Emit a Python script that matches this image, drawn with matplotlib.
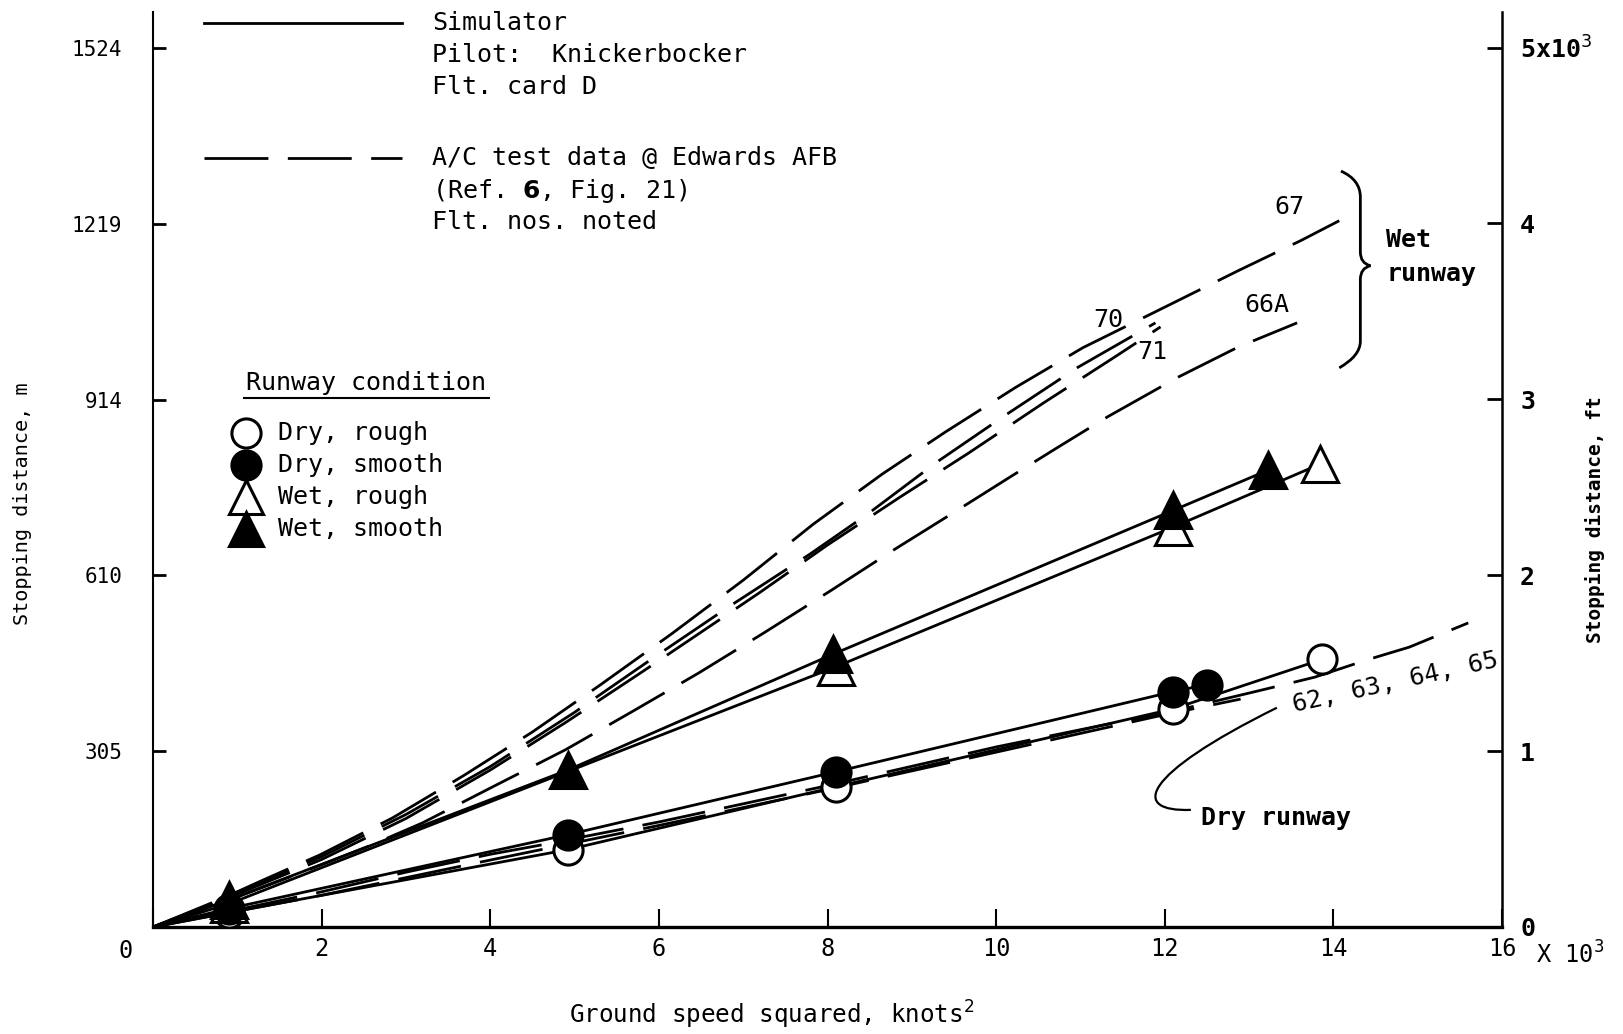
import matplotlib
matplotlib.use("Agg")
import matplotlib.pyplot as plt
from matplotlib.path import Path
from matplotlib.patches import PathPatch

# ground speed squared in 10^3 knots^2, stopping distance in m
# simulator runs (Pilot: Knickerbocker, Flt. card D)
dry_rough_x = [0.9, 4.92, 8.1, 12.1, 13.87]
dry_rough_y = [25, 134, 243, 378, 464]
dry_smooth_x = [0.9, 4.92, 8.1, 12.1, 12.5]
dry_smooth_y = [32, 160, 269, 408, 420]
wet_rough_x = [0.9, 8.1, 12.1, 13.84]
wet_rough_y = [40, 451, 693, 802]
wet_smooth_x = [0.9, 4.92, 8.07, 12.1, 13.23]
wet_smooth_y = [47, 272, 473, 722, 792]

# A/C test data @ Edwards AFB, flight numbers
flt67_x = [0, 0.5, 1.3, 1.98, 2.84, 3.68, 4.5, 5.3, 6.16, 7.0, 7.83, 8.65, 9.4, 10.23, 11.03, 12.08, 12.88, 13.62, 14.07]
flt67_y = [0, 28, 81, 125, 189, 262, 338, 419, 509, 601, 698, 785, 858, 935, 1004, 1080, 1138, 1190, 1224]
flt70_x = [0, 1, 2, 3, 4, 5, 5.95, 6.84, 7.79, 8.47, 9.3, 10.11, 10.97, 11.89]
flt70_y = [0, 60, 122, 195, 278, 372, 468, 556, 646, 715, 806, 887, 970, 1047]
flt71_x = [0, 1, 2, 3, 4, 4.9, 5.8, 6.4, 7.2, 8.0, 8.86, 9.67, 10.56, 11.43, 11.95]
flt71_y = [0, 57, 117, 188, 272, 355, 442, 501, 580, 662, 745, 821, 908, 990, 1040]
flt66a_x = [0, 1, 2, 2.54, 3.19, 4.03, 4.89, 5.68, 6.47, 7.26, 8.05, 8.78, 9.45, 10.2, 10.74, 11.32, 12.16, 12.87, 13.57]
flt66a_y = [0, 52, 108, 139, 180, 243, 307, 373, 440, 511, 584, 653, 714, 783, 832, 884, 953, 1005, 1047]
dry_test_x = [0, 1, 2, 3, 4, 4.6, 6, 8, 10, 11.27, 11.9, 13.16, 13.78, 14.4, 14.9, 15.6]
dry_test_y = [0, 30, 61, 95, 126, 142, 182, 245, 312, 350, 367, 411, 433, 463, 485, 527]
dry_test2_x = [0, 2, 4, 6, 8, 10, 12, 12.9]
dry_test2_y = [0, 55, 116, 176, 238, 303, 368, 395]

m_ticks = [305, 610, 914, 1219, 1524]
ft_ticks = [0, 1000, 2000, 3000, 4000, 5000]
ft_labels = ["0", "1", "2", "3", "4", "5x10$^3$"]
x_ticks = [0, 2, 4, 6, 8, 10, 12, 14, 16]
x_labels = ["", "2", "4", "6", "8", "10", "12", "14", "16"]

MONO = "DejaVu Sans Mono"
FS = 18

fig = plt.figure(figsize=(16.24, 10.34), dpi=100)
ax = fig.add_axes([153 / 1624, 1 - 927 / 1034, 1349 / 1624, 914.6 / 1034])
ax.set_xlim(0, 16)
ax.set_ylim(0, 1585)

for s in ["top", "right"]:
    ax.spines[s].set_visible(False)
ax.spines["bottom"].set_linewidth(2.4)
ax.spines["left"].set_linewidth(1.5)

ax.set_xticks(x_ticks)
ax.set_xticklabels(x_labels, fontfamily=MONO, fontsize=17)
ax.set_yticks(m_ticks)
ax.set_yticklabels([str(v) for v in m_ticks], fontfamily=MONO, fontsize=15)
ax.tick_params(axis="x", direction="in", length=13, width=1.5, pad=7)
ax.tick_params(axis="y", direction="in", length=9, width=2, pad=22)

ax2 = ax.twinx()
ax2.set_ylim(0, 1585 / 0.3048)
for s in ["top", "left", "bottom"]:
    ax2.spines[s].set_visible(False)
ax2.spines["right"].set_linewidth(1.8)
ax2.set_yticks(ft_ticks)
ax2.set_yticklabels(ft_labels, fontfamily=MONO, fontsize=18, fontweight="bold")
ax2.tick_params(axis="y", direction="in", length=11, width=2, pad=13)

# A/C test data, dashed
dash = dict(color="black", lw=2, dashes=(23, 7))
for xs, ys in [(flt67_x, flt67_y), (flt70_x, flt70_y), (flt71_x, flt71_y),
               (flt66a_x, flt66a_y), (dry_test_x, dry_test_y), (dry_test2_x, dry_test2_y)]:
    ax.plot(xs, ys, **dash)

# simulator fairings, solid
for xs, ys in [(wet_smooth_x, wet_smooth_y), (wet_rough_x, wet_rough_y),
               (dry_smooth_x, dry_smooth_y), (dry_rough_x, dry_rough_y)]:
    ax.plot([0] + xs, [0] + ys, color="black", lw=2)

mk = dict(ls="none", mec="black", mew=2.2)
ax.plot(dry_rough_x, dry_rough_y, marker="o", ms=21, mfc="white", zorder=4, **mk)
ax.plot(dry_smooth_x, dry_smooth_y, marker="o", ms=21, mfc="black", zorder=5, **mk)
ax.plot(wet_rough_x, wet_rough_y, marker="^", ms=26, mfc="white", zorder=4, **mk)
ax.plot(wet_smooth_x, wet_smooth_y, marker="^", ms=26, mfc="black", zorder=5, **mk)

# legend block (top)
ax.plot([0.6, 2.95], [1567, 1567], color="black", lw=2)
ax.plot([0.6, 2.95], [1333, 1333], **dash)
for y, s in [(1567, "Simulator"), (1511, "Pilot:  Knickerbocker"), (1456, "Flt. card D"),
             (1333, "A/C test data @ Edwards AFB"), (1276, r"(Ref. $\mathbf{6}$, Fig. 21)"),
             (1222, "Flt. nos. noted")]:
    ax.text(3.31, y, s, fontfamily=MONO, fontsize=FS, va="center", ha="left")

# runway condition key
ax.text(1.1, 943, "Runway condition", fontfamily=MONO, fontsize=FS, va="center", ha="left")
ax.plot([1.08, 3.99], [917, 917], color="black", lw=1.5)
key = [("o", "white", "Dry, rough"), ("o", "black", "Dry, smooth"),
       ("^", "white", "Wet, rough"), ("^", "black", "Wet, smooth")]
for (m, fc, lab), y in zip(key, [856, 800, 745, 690]):
    ax.plot([1.1], [y], marker=m, ms=21 if m == "o" else 24, mfc=fc, **mk)
    ax.text(1.48, y, lab, fontfamily=MONO, fontsize=FS, va="center", ha="left")

# flight number labels
ax.text(13.48, 1248, "67", fontfamily=MONO, fontsize=FS, ha="center", va="center")
ax.text(11.33, 1052, "70", fontfamily=MONO, fontsize=FS, ha="center", va="center")
ax.text(11.85, 997, "71", fontfamily=MONO, fontsize=FS, ha="center", va="center")
ax.text(13.21, 1078, "66A", fontfamily=MONO, fontsize=FS, ha="center", va="center")
ax.text(14.74, 424, "62, 63, 64, 65", fontfamily=MONO, fontsize=FS, ha="center",
        va="center", rotation=12.5, rotation_mode="anchor")

# wet runway brace
P = Path
brace = Path([(14.09, 1310), (14.32, 1295), (14.32, 1265), (14.32, 1170),
              (14.32, 1150), (14.44, 1146), (14.32, 1142), (14.32, 1122),
              (14.32, 1015), (14.32, 990), (14.07, 969)],
             [P.MOVETO, P.CURVE3, P.CURVE3, P.LINETO, P.CURVE3, P.CURVE3,
              P.CURVE3, P.CURVE3, P.LINETO, P.CURVE3, P.CURVE3])
ax.add_patch(PathPatch(brace, fc="none", ec="black", lw=2))
ax.text(14.63, 1190, "Wet", fontfamily=MONO, fontsize=FS, fontweight="bold", va="center")
ax.text(14.63, 1131, "runway", fontfamily=MONO, fontsize=FS, fontweight="bold", va="center")

# dry runway leader
leader = Path([(12.31, 203), (11.59, 199), (11.71, 263), (13.33, 380)],
              [P.MOVETO, P.CURVE4, P.CURVE4, P.CURVE4])
ax.add_patch(PathPatch(leader, fc="none", ec="black", lw=1.6))
ax.text(12.43, 189, "Dry runway", fontfamily=MONO, fontsize=FS, fontweight="bold",
        va="center", ha="left")

# axis annotations
ax.text(-0.32, -42, "0", fontfamily=MONO, fontsize=17, ha="center",
        va="center", clip_on=False)
ax.text(16.4, -48, "X 10$^3$", fontfamily=MONO, fontsize=17, ha="left",
        va="center", clip_on=False)
ax.text(0.459, -0.096, "Ground speed squared, knots$^2$", transform=ax.transAxes,
        fontfamily=MONO, fontsize=17.5, ha="center", va="center")
ax.text(-0.0964, 0.4625, "Stopping distance, m", transform=ax.transAxes,
        fontfamily=MONO, fontsize=14.5, rotation=90, ha="center", va="center")
ax.text(1.069, 0.445, "Stopping distance, ft", transform=ax.transAxes,
        fontfamily=MONO, fontsize=14, fontweight="bold", rotation=90,
        ha="center", va="center")

fig.savefig("out.png", dpi=100)
